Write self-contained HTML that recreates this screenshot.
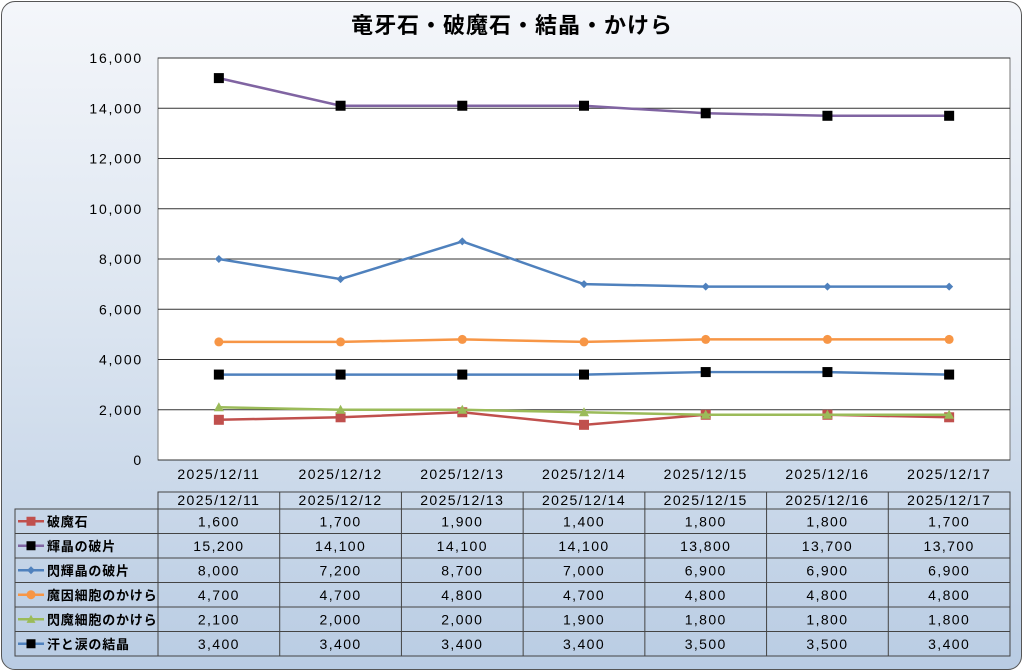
<!DOCTYPE html>
<html><head><meta charset="utf-8"><style>
body{margin:0;width:1024px;height:672px;overflow:hidden;background:#fff;font-family:"Liberation Sans","Noto Sans CJK JP",sans-serif;}
#wrap{position:absolute;left:1px;top:1px;width:1019px;height:667px;border:1.5px solid #555;border-radius:14px;background:linear-gradient(#f4f6fa 0%,#dde6f1 45%,#b9cce3 100%);overflow:hidden}
svg{position:absolute;left:0;top:0}
</style></head><body>
<div id="wrap"></div>
<svg id="chart" width="1024" height="672"></svg>
<script>
const categories=["2025/12/11","2025/12/12","2025/12/13","2025/12/14","2025/12/15","2025/12/16","2025/12/17"];
const seriesNames=["破魔石","輝晶の破片","閃輝晶の破片","魔因細胞のかけら","閃魔細胞のかけら","汗と涙の結晶"];
const s1=[1600,1700,1900,1400,1800,1800,1700];
const s2=[15200,14100,14100,14100,13800,13700,13700];
const s3=[8000,7200,8700,7000,6900,6900,6900];
const s4=[4700,4700,4800,4700,4800,4800,4800];
const s5=[2100,2000,2000,1900,1800,1800,1800];
const s6=[3400,3400,3400,3400,3500,3500,3400];
const yTicks=[0,2000,4000,6000,8000,10000,12000,14000,16000];
const seriesData=[s1,s2,s3,s4,s5,s6];
const lineColors=["#c0504d","#8064a2","#4f81bd","#f79646","#9bbb59","#4f81bd"];
const markerColors=["#c0504d","#000","#4f81bd","#f79646","#9bbb59","#000"];
const markers=["square","square","diamond","circle","triangle","square"];
const drawOrder=[1,2,3,5,0,4];
const svg=document.getElementById('chart');const NS="http://www.w3.org/2000/svg";
const L=158,R=1010,T=58,B=460,yMax=16000;
const cw=(R-L)/categories.length;
const xs=i=>L+cw*(i+0.5);const ys=v=>B-(v/yMax)*(B-T);
function mk(t,a,txt){const e=document.createElementNS(NS,t);for(const k in a)e.setAttribute(k,a[k]);if(txt!=null)e.textContent=txt;svg.appendChild(e);return e;}
const font='"Liberation Sans","Noto Sans CJK JP",sans-serif';
const LS='1.4px';
let e=mk('text',{x:512,y:33,'text-anchor':'middle','font-size':22,'font-weight':'bold','font-family':font,fill:'#000','letter-spacing':'1px'},'竜牙石・破魔石・結晶・かけら');

e=mk('rect',{x:L,y:T,width:R-L,height:B-T,fill:'#fff',stroke:'#777','stroke-width':1});

yTicks.forEach(v=>{const y=ys(v);
 if(v>0){e=mk('line',{x1:L,x2:R,y1:y,y2:y,stroke:'#333','stroke-width':1});}
 e=mk('text',{x:143,y:y+5,'text-anchor':'end','font-size':14,'font-family':font,fill:'#000','letter-spacing':'1.8px'},v.toLocaleString('en-US'));
 });
mk('line',{x1:L,x2:R,y1:B,y2:B,stroke:'#333'});
categories.forEach((c,i)=>{e=mk('text',{x:xs(i),y:479,'text-anchor':'middle','font-size':14,'font-family':font,'letter-spacing':LS},c);
 });
function marker(type,x,y,col,s){let m;
 if(type==='square')m=mk('rect',{x:x-s,y:y-s,width:2*s,height:2*s,fill:col});
 else if(type==='diamond')m=mk('polygon',{points:`${x},${y-s} ${x+s},${y} ${x},${y+s} ${x-s},${y}`,fill:col});
 else if(type==='circle')m=mk('circle',{cx:x,cy:y,r:s,fill:col});
 else m=mk('polygon',{points:`${x},${y-s} ${x+s},${y+s*0.8} ${x-s},${y+s*0.8}`,fill:col});
 return m;}
drawOrder.forEach(k=>{const d=seriesData[k];
 e=mk('polyline',{points:d.map((v,i)=>xs(i)+','+ys(v)).join(' '),fill:'none',stroke:lineColors[k],'stroke-width':2.5});
 
 d.forEach((v,i)=>{const sz=markers[k]==='diamond'?4:(markers[k]==='circle'?4.5:5);
  const m=marker(markers[k],xs(i),ys(v),markerColors[k],sz);
  });});
const hT=492,hB=509,rowH=24.5,tL=15;
const tB=hB+rowH*seriesNames.length;
e=mk('rect',{x:tL,y:hB,width:R-tL,height:tB-hB,fill:'none',stroke:'#444'});

mk('rect',{x:L,y:hT,width:R-L,height:hB-hT,fill:'none',stroke:'#444'});
for(let i=0;i<=categories.length;i++)mk('line',{x1:L+cw*i,x2:L+cw*i,y1:hT,y2:tB,stroke:'#444'});
seriesNames.forEach((n,k)=>{const y=hB+rowH*(k+1);if(k<seriesNames.length-1)mk('line',{x1:tL,x2:R,y1:y,y2:y,stroke:'#444'});});
categories.forEach((c,i)=>{e=mk('text',{x:xs(i),y:505,'text-anchor':'middle','font-size':14,'font-family':font,'letter-spacing':LS},c);
 });
seriesNames.forEach((n,k)=>{const cy=hB+rowH*(k+0.5);
 mk('line',{x1:18,x2:44,y1:cy,y2:cy,stroke:lineColors[k],'stroke-width':2.5});
 marker(markers[k],31,cy,markerColors[k],markers[k]==='diamond'?4:4.5);
 e=mk('text',{x:47,y:cy+5,'font-size':13,'font-weight':'bold','font-family':font,'letter-spacing':'0.8px'},n);
 
 seriesData[k].forEach((v,i)=>{e=mk('text',{x:xs(i),y:cy+5,'text-anchor':'middle','font-size':14,'font-family':font,'letter-spacing':LS},v.toLocaleString('en-US'));
  });});
</script>
</body></html>
